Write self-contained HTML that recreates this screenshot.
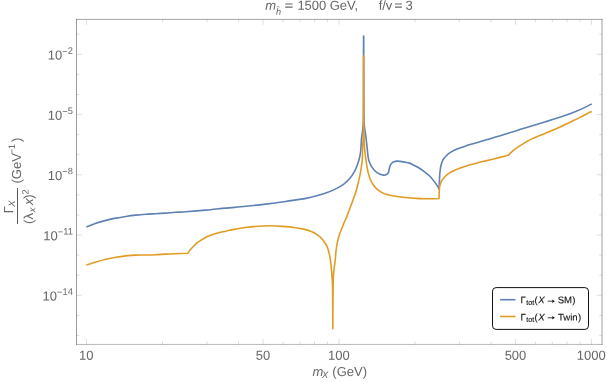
<!DOCTYPE html>
<html><head><meta charset="utf-8"><title>plot</title>
<style>html,body{margin:0;padding:0;background:#fff}body{width:607px;height:382px;overflow:hidden}</style>
</head><body>
<svg width="607" height="382" viewBox="0 0 607 382" style="display:block;font-family:'Liberation Sans',sans-serif">
<rect width="607" height="382" fill="#fff"/>
<g stroke="#666" stroke-width="0.22" fill="none">
<line x1="86.50" y1="344.45" x2="86.50" y2="339.05"/>
<line x1="86.50" y1="19.40" x2="86.50" y2="24.80"/>
<line x1="262.95" y1="344.45" x2="262.95" y2="339.05"/>
<line x1="262.95" y1="19.40" x2="262.95" y2="24.80"/>
<line x1="338.95" y1="344.45" x2="338.95" y2="339.05"/>
<line x1="338.95" y1="19.40" x2="338.95" y2="24.80"/>
<line x1="515.40" y1="344.45" x2="515.40" y2="339.05"/>
<line x1="515.40" y1="19.40" x2="515.40" y2="24.80"/>
<line x1="591.40" y1="344.45" x2="591.40" y2="339.05"/>
<line x1="591.40" y1="19.40" x2="591.40" y2="24.80"/>
<line x1="162.50" y1="344.45" x2="162.50" y2="341.55"/>
<line x1="162.50" y1="19.40" x2="162.50" y2="22.30"/>
<line x1="206.95" y1="344.45" x2="206.95" y2="341.55"/>
<line x1="206.95" y1="19.40" x2="206.95" y2="22.30"/>
<line x1="238.49" y1="344.45" x2="238.49" y2="341.55"/>
<line x1="238.49" y1="19.40" x2="238.49" y2="22.30"/>
<line x1="282.94" y1="344.45" x2="282.94" y2="341.55"/>
<line x1="282.94" y1="19.40" x2="282.94" y2="22.30"/>
<line x1="299.85" y1="344.45" x2="299.85" y2="341.55"/>
<line x1="299.85" y1="19.40" x2="299.85" y2="22.30"/>
<line x1="314.49" y1="344.45" x2="314.49" y2="341.55"/>
<line x1="314.49" y1="19.40" x2="314.49" y2="22.30"/>
<line x1="327.40" y1="344.45" x2="327.40" y2="341.55"/>
<line x1="327.40" y1="19.40" x2="327.40" y2="22.30"/>
<line x1="414.95" y1="344.45" x2="414.95" y2="341.55"/>
<line x1="414.95" y1="19.40" x2="414.95" y2="22.30"/>
<line x1="459.40" y1="344.45" x2="459.40" y2="341.55"/>
<line x1="459.40" y1="19.40" x2="459.40" y2="22.30"/>
<line x1="490.94" y1="344.45" x2="490.94" y2="341.55"/>
<line x1="490.94" y1="19.40" x2="490.94" y2="22.30"/>
<line x1="535.39" y1="344.45" x2="535.39" y2="341.55"/>
<line x1="535.39" y1="19.40" x2="535.39" y2="22.30"/>
<line x1="552.30" y1="344.45" x2="552.30" y2="341.55"/>
<line x1="552.30" y1="19.40" x2="552.30" y2="22.30"/>
<line x1="566.94" y1="344.45" x2="566.94" y2="341.55"/>
<line x1="566.94" y1="19.40" x2="566.94" y2="22.30"/>
<line x1="579.85" y1="344.45" x2="579.85" y2="341.55"/>
<line x1="579.85" y1="19.40" x2="579.85" y2="22.30"/>
<line x1="76.50" y1="335.42" x2="79.40" y2="335.42"/>
<line x1="602.00" y1="335.42" x2="599.10" y2="335.42"/>
<line x1="76.50" y1="315.34" x2="79.40" y2="315.34"/>
<line x1="602.00" y1="315.34" x2="599.10" y2="315.34"/>
<line x1="76.50" y1="295.26" x2="81.90" y2="295.26"/>
<line x1="602.00" y1="295.26" x2="596.60" y2="295.26"/>
<line x1="76.50" y1="275.18" x2="79.40" y2="275.18"/>
<line x1="602.00" y1="275.18" x2="599.10" y2="275.18"/>
<line x1="76.50" y1="255.10" x2="79.40" y2="255.10"/>
<line x1="602.00" y1="255.10" x2="599.10" y2="255.10"/>
<line x1="76.50" y1="235.02" x2="81.90" y2="235.02"/>
<line x1="602.00" y1="235.02" x2="596.60" y2="235.02"/>
<line x1="76.50" y1="214.94" x2="79.40" y2="214.94"/>
<line x1="602.00" y1="214.94" x2="599.10" y2="214.94"/>
<line x1="76.50" y1="194.86" x2="79.40" y2="194.86"/>
<line x1="602.00" y1="194.86" x2="599.10" y2="194.86"/>
<line x1="76.50" y1="174.78" x2="81.90" y2="174.78"/>
<line x1="602.00" y1="174.78" x2="596.60" y2="174.78"/>
<line x1="76.50" y1="154.70" x2="79.40" y2="154.70"/>
<line x1="602.00" y1="154.70" x2="599.10" y2="154.70"/>
<line x1="76.50" y1="134.62" x2="79.40" y2="134.62"/>
<line x1="602.00" y1="134.62" x2="599.10" y2="134.62"/>
<line x1="76.50" y1="114.54" x2="81.90" y2="114.54"/>
<line x1="602.00" y1="114.54" x2="596.60" y2="114.54"/>
<line x1="76.50" y1="94.46" x2="79.40" y2="94.46"/>
<line x1="602.00" y1="94.46" x2="599.10" y2="94.46"/>
<line x1="76.50" y1="74.38" x2="79.40" y2="74.38"/>
<line x1="602.00" y1="74.38" x2="599.10" y2="74.38"/>
<line x1="76.50" y1="54.30" x2="81.90" y2="54.30"/>
<line x1="602.00" y1="54.30" x2="596.60" y2="54.30"/>
<line x1="76.50" y1="34.22" x2="79.40" y2="34.22"/>
<line x1="602.00" y1="34.22" x2="599.10" y2="34.22"/>
</g>
<g stroke="#666" fill="none" stroke-linecap="square">
<line x1="76.5" y1="19.4" x2="76.5" y2="344.45" stroke-width="0.66"/>
<line x1="76.5" y1="19.4" x2="602.0" y2="19.4" stroke-width="0.58"/>
<line x1="602.0" y1="19.4" x2="602.0" y2="344.45" stroke-width="0.62"/>
<line x1="76.5" y1="344.45" x2="602.0" y2="344.45" stroke-width="0.46"/>
</g>
<g fill="none" stroke-width="1.6" stroke-linejoin="round" stroke-linecap="butt">
<path stroke="#5E81B5" d="M86.35 227.00 C87.94 226.38 92.64 224.39 95.90 223.28 C99.16 222.18 102.58 221.23 105.90 220.37 C109.22 219.52 112.48 218.81 115.80 218.16 C119.12 217.50 122.48 216.95 125.80 216.44 C129.12 215.94 132.38 215.50 135.70 215.13 C139.02 214.75 142.38 214.45 145.70 214.21 C149.02 213.97 152.28 213.88 155.60 213.70 C158.92 213.51 162.28 213.33 165.60 213.10 C168.92 212.87 172.10 212.53 175.50 212.30 C178.90 212.07 180.93 212.07 186.00 211.70 C191.07 211.33 199.27 210.70 205.90 210.10 C212.53 209.50 219.17 208.73 225.80 208.10 C232.43 207.47 239.07 206.97 245.70 206.30 C252.33 205.63 258.97 204.90 265.60 204.10 C272.23 203.30 280.43 202.20 285.50 201.50 C290.57 200.80 292.58 200.42 296.00 199.90 C299.42 199.38 302.68 199.07 306.00 198.40 C309.32 197.73 312.58 196.82 315.90 195.90 C319.22 194.98 322.58 194.07 325.90 192.90 C329.22 191.73 332.82 190.37 335.80 188.90 C338.78 187.43 341.48 185.82 343.80 184.10 C346.12 182.38 347.88 180.74 349.70 178.58 C351.52 176.42 353.37 173.59 354.70 171.15 C356.03 168.70 356.87 166.28 357.70 163.92 C358.53 161.56 359.18 159.32 359.70 157.00 C360.22 154.68 360.52 152.83 360.80 150.00 C361.08 147.17 361.13 143.00 361.40 140.00 C361.67 137.00 362.11 134.50 362.40 132.00 C362.69 129.50 362.97 128.67 363.15 125.00 C363.32 121.33 363.38 124.83 363.45 110.00 C363.52 95.17 363.53 48.33 363.55 36.00 L363.70 36.00 C363.73 48.33 363.78 95.17 363.88 110.00 C363.97 124.83 364.06 121.33 364.29 125.00 C364.52 128.67 364.90 129.50 365.24 132.00 C365.58 134.50 365.95 137.00 366.30 140.00 C366.65 143.00 367.07 147.33 367.35 150.00 C367.63 152.67 367.73 154.18 368.01 156.00 C368.28 157.82 368.36 159.08 368.99 160.90 C369.63 162.72 370.71 165.13 371.82 166.90 C372.92 168.67 374.32 170.30 375.62 171.50 C376.92 172.70 378.27 173.50 379.60 174.10 C380.93 174.70 382.45 175.03 383.60 175.10 C384.75 175.17 385.68 174.97 386.50 174.50 C387.32 174.03 388.07 173.13 388.50 172.30 C388.93 171.47 388.87 170.50 389.10 169.50 C389.33 168.50 389.50 167.30 389.90 166.30 C390.30 165.30 390.83 164.27 391.50 163.50 C392.17 162.73 392.90 162.10 393.90 161.70 C394.90 161.30 395.90 161.07 397.50 161.10 C399.10 161.13 401.52 161.53 403.50 161.87 C405.48 162.21 407.98 162.74 409.40 163.14 C410.82 163.55 410.58 163.61 412.00 164.30 C413.42 164.99 415.92 166.14 417.90 167.31 C419.88 168.48 421.90 169.80 423.90 171.30 C425.90 172.80 428.07 174.46 429.90 176.30 C431.73 178.15 433.58 180.64 434.90 182.37 C436.22 184.10 437.12 185.58 437.80 186.70 C438.48 187.82 438.80 188.70 439.00 189.10 L439.00 189.10 C439.07 187.86 439.27 184.22 439.40 181.63 C439.53 179.05 439.57 176.16 439.80 173.60 C440.03 171.04 440.30 168.51 440.80 166.27 C441.30 164.03 441.97 161.84 442.80 160.16 C443.63 158.48 444.47 157.54 445.80 156.19 C447.13 154.85 448.82 153.35 450.80 152.10 C452.78 150.86 455.22 149.75 457.70 148.73 C460.18 147.71 462.70 146.92 465.70 145.96 C468.70 145.01 472.38 143.99 475.70 143.00 C479.02 142.02 482.28 141.03 485.60 140.04 C488.92 139.06 492.28 138.08 495.60 137.08 C498.92 136.08 502.18 135.07 505.50 134.05 C508.82 133.02 512.12 132.00 515.50 130.95 C518.88 129.90 522.42 128.79 525.80 127.75 C529.18 126.71 532.48 125.71 535.80 124.71 C539.12 123.71 542.38 122.75 545.70 121.74 C549.02 120.72 552.38 119.69 555.70 118.61 C559.02 117.53 562.28 116.46 565.60 115.28 C568.92 114.11 572.28 112.92 575.60 111.55 C578.92 110.19 582.80 108.38 585.50 107.10 C588.20 105.83 590.75 104.43 591.80 103.89"/>
<path stroke="#E19C24" d="M86.35 265.00 C87.94 264.50 92.64 262.95 95.90 262.00 C99.16 261.05 102.58 260.08 105.90 259.30 C109.22 258.52 112.48 257.87 115.80 257.30 C119.12 256.73 122.48 256.27 125.80 255.90 C129.12 255.53 132.38 255.25 135.70 255.10 C139.02 254.95 142.38 255.07 145.70 255.00 C149.02 254.93 152.28 254.85 155.60 254.70 C158.92 254.55 162.28 254.27 165.60 254.10 C168.92 253.93 171.80 253.83 175.50 253.70 C179.20 253.57 185.75 253.37 187.80 253.30 L187.80 253.30 C188.25 252.68 189.47 250.86 190.50 249.60 C191.53 248.34 192.92 246.87 194.00 245.75 C195.08 244.63 195.96 243.74 197.00 242.90 C198.04 242.06 198.67 241.68 200.25 240.70 C201.83 239.72 204.41 238.04 206.50 237.00 C208.59 235.96 210.70 235.18 212.80 234.45 C214.90 233.72 216.90 233.14 219.10 232.60 C221.30 232.06 223.75 231.70 226.00 231.20 C228.25 230.70 229.42 230.22 232.60 229.60 C235.78 228.98 240.92 228.07 245.10 227.50 C249.28 226.93 253.51 226.48 257.70 226.20 C261.89 225.92 266.07 225.77 270.25 225.80 C274.43 225.83 278.80 226.12 282.80 226.40 C286.80 226.68 290.97 227.08 294.25 227.50 C297.53 227.92 299.75 228.28 302.50 228.90 C305.25 229.52 308.27 230.21 310.75 231.20 C313.23 232.19 315.39 233.47 317.35 234.85 C319.31 236.23 320.93 237.57 322.53 239.50 C324.14 241.43 325.84 243.88 327.00 246.40 C328.15 248.93 328.85 251.90 329.48 254.65 C330.10 257.40 330.40 260.15 330.76 262.90 C331.11 265.65 331.34 268.40 331.58 271.15 C331.83 273.90 332.04 276.26 332.21 279.40 C332.38 282.54 332.50 281.78 332.60 290.00 C332.70 298.22 332.77 322.25 332.80 328.70 L332.80 328.70 C332.84 322.25 332.95 298.77 333.05 290.00 C333.15 281.23 333.20 279.79 333.39 276.10 C333.59 272.41 333.89 270.60 334.20 267.85 C334.51 265.10 334.95 262.35 335.24 259.60 C335.54 256.85 335.66 254.10 335.98 251.35 C336.31 248.60 336.63 245.85 337.19 243.10 C337.76 240.35 338.36 237.88 339.37 234.85 C340.37 231.82 342.08 227.76 343.23 224.90 C344.39 222.04 345.28 220.23 346.31 217.70 C347.34 215.17 348.36 212.43 349.41 209.70 C350.45 206.97 351.54 204.12 352.57 201.30 C353.61 198.48 354.70 195.72 355.60 192.80 C356.50 189.88 357.30 186.62 358.00 183.80 C358.70 180.98 359.23 178.72 359.80 175.90 C360.37 173.08 360.96 169.88 361.40 166.90 C361.84 163.92 362.24 160.82 362.42 158.00 C362.60 155.18 362.39 153.00 362.50 150.00 C362.61 147.00 362.94 143.33 363.10 140.00 C363.26 136.67 363.37 135.00 363.45 130.00 C363.53 125.00 363.55 122.37 363.58 110.00 C363.61 97.63 363.60 64.83 363.60 55.80 L363.65 55.80 C363.66 64.83 363.67 97.63 363.70 110.00 C363.73 122.37 363.77 125.00 363.85 130.00 C363.93 135.00 364.06 136.67 364.20 140.00 C364.34 143.33 364.45 147.00 364.70 150.00 C364.95 153.00 365.34 155.36 365.70 158.00 C366.06 160.64 366.43 163.41 366.84 165.84 C367.25 168.28 367.62 170.37 368.19 172.61 C368.75 174.84 369.39 177.22 370.23 179.24 C371.08 181.26 372.10 183.02 373.27 184.71 C374.45 186.39 375.81 188.04 377.27 189.36 C378.74 190.68 380.30 191.73 382.06 192.63 C383.82 193.52 385.56 194.10 387.83 194.70 C390.09 195.30 392.70 195.75 395.65 196.23 C398.60 196.70 402.11 197.20 405.50 197.56 C408.89 197.92 412.60 198.21 416.00 198.40 C419.40 198.59 422.58 198.65 425.90 198.70 C429.22 198.75 433.72 198.73 435.90 198.70 C438.08 198.67 438.48 198.53 439.00 198.50 L439.00 198.50 C439.07 197.03 439.27 191.83 439.40 189.70 C439.53 187.57 439.40 187.20 439.80 185.70 C440.20 184.20 440.97 182.18 441.80 180.70 C442.63 179.22 443.63 178.02 444.80 176.80 C445.97 175.58 446.97 174.57 448.80 173.40 C450.63 172.23 452.98 171.00 455.80 169.80 C458.62 168.60 462.38 167.27 465.70 166.20 C469.02 165.13 472.38 164.28 475.70 163.40 C479.02 162.52 482.28 161.72 485.60 160.90 C488.92 160.08 492.28 159.32 495.60 158.50 C498.92 157.68 503.35 156.55 505.50 156.00 C507.65 155.45 508.00 155.33 508.50 155.20 L508.50 155.20 C508.87 154.82 509.78 153.78 510.70 152.90 C511.62 152.03 512.88 150.86 514.00 149.96 C515.12 149.06 516.17 148.35 517.40 147.51 C518.63 146.67 520.00 145.82 521.40 144.92 C522.80 144.03 524.07 143.15 525.80 142.14 C527.53 141.13 529.48 139.95 531.80 138.86 C534.12 137.76 536.72 136.81 539.70 135.58 C542.68 134.35 546.38 132.87 549.70 131.47 C553.02 130.08 556.28 128.72 559.60 127.21 C562.92 125.70 566.28 124.01 569.60 122.42 C572.92 120.82 576.52 119.11 579.50 117.62 C582.48 116.13 585.45 114.50 587.50 113.48 C589.55 112.46 591.08 111.84 591.80 111.51"/>
</g>
<rect x="492.5" y="287.6" width="96" height="41.8" rx="3.6" ry="3.6" fill="#fff" stroke="#111" stroke-width="1"/>
<line x1="500.1" x2="515.5" y1="299.7" y2="299.7" stroke="#5E81B5" stroke-width="1.6"/>
<line x1="500.1" x2="515.5" y1="316.5" y2="316.5" stroke="#E19C24" stroke-width="1.6"/>
<path d="M547.7 301.2 H553.4" stroke="#111" stroke-width="0.8" fill="none"/><path d="M555.0 301.2 L552.0 299.4 L552.6 301.2 L552.0 302.9 Z" fill="#111"/>
<path d="M547.7 317.8 H553.4" stroke="#111" stroke-width="0.8" fill="none"/><path d="M555.0 317.8 L552.0 316.1 L552.6 317.8 L552.0 319.6 Z" fill="#111"/>
<g opacity="0.999">
<text x="79.10" y="359.65" font-size="13px" fill="#666" transform="rotate(0.03 79.10 359.65)">10</text>
<text x="255.80" y="359.65" font-size="13px" fill="#666" transform="rotate(0.03 255.80 359.65)">50</text>
<text x="327.93" y="359.65" font-size="13px" fill="#666" transform="rotate(0.03 327.93 359.65)">100</text>
<text x="504.63" y="359.65" font-size="13px" fill="#666" transform="rotate(0.03 504.63 359.65)">500</text>
<text x="576.75" y="359.65" font-size="13px" fill="#666" transform="rotate(0.03 576.75 359.65)">1000</text>
<text x="265.15" y="9.85" font-size="13px" font-style="italic" fill="#666" transform="rotate(0.03 265.15 9.85)">m</text>
<text x="276.05" y="14.80" font-size="9.2px" font-style="italic" fill="#666" transform="rotate(0.03 276.05 14.80)">h</text>
<text x="297.40" y="9.85" font-size="13px" fill="#666" transform="rotate(0.03 297.40 9.85)">1500</text>
<text x="329.75" y="9.85" font-size="13px" fill="#666" transform="rotate(0.03 329.75 9.85)">GeV,</text>
<text x="378.65" y="9.85" font-size="13px" fill="#666" transform="rotate(0.03 378.65 9.85)">f/v</text>
<text x="405.52" y="9.85" font-size="13px" fill="#666" transform="rotate(0.03 405.52 9.85)">3</text>
<text x="312.55" y="375.95" font-size="13px" font-style="italic" fill="#666" transform="rotate(0.03 312.55 375.95)">m</text>
<text x="322.10" y="377.95" font-size="9.3px" font-style="italic" fill="#666" transform="rotate(0.03 322.10 377.95)">X</text>
<text x="332.35" y="375.95" font-size="13px" fill="#666" transform="rotate(0.03 332.35 375.95)">(GeV)</text>
<text x="520.45" y="303.20" font-size="9.6px" fill="#111" transform="rotate(0.03 520.45 303.20)" stroke="#111" stroke-width="0.12">Γ</text>
<text x="526.15" y="304.90" font-size="7.2px" fill="#111" transform="rotate(0.03 526.15 304.90)" stroke="#111" stroke-width="0.12">tot</text>
<text x="534.50" y="303.20" font-size="9.6px" fill="#111" transform="rotate(0.03 534.50 303.20)" stroke="#111" stroke-width="0.12">(</text>
<text x="538.15" y="303.20" font-size="9.6px" font-style="italic" fill="#111" transform="rotate(0.03 538.15 303.20)" stroke="#111" stroke-width="0.12">X</text>
<text x="557.70" y="303.20" font-size="9.6px" fill="#111" transform="rotate(0.03 557.70 303.20)" stroke="#111" stroke-width="0.12">SM</text>
<text x="572.30" y="303.20" font-size="9.6px" fill="#111" transform="rotate(0.03 572.30 303.20)" stroke="#111" stroke-width="0.12">)</text>
<text x="520.45" y="320.40" font-size="9.6px" fill="#111" transform="rotate(0.03 520.45 320.40)" stroke="#111" stroke-width="0.12">Γ</text>
<text x="526.15" y="322.10" font-size="7.2px" fill="#111" transform="rotate(0.03 526.15 322.10)" stroke="#111" stroke-width="0.12">tot</text>
<text x="534.50" y="320.40" font-size="9.6px" fill="#111" transform="rotate(0.03 534.50 320.40)" stroke="#111" stroke-width="0.12">(</text>
<text x="538.15" y="320.40" font-size="9.6px" font-style="italic" fill="#111" transform="rotate(0.03 538.15 320.40)" stroke="#111" stroke-width="0.12">X</text>
<text x="557.95" y="320.40" font-size="9.6px" fill="#111" transform="rotate(0.03 557.95 320.40)" stroke="#111" stroke-width="0.12">Twin</text>
<text x="578.05" y="320.40" font-size="9.6px" fill="#111" transform="rotate(0.03 578.05 320.40)" stroke="#111" stroke-width="0.12">)</text>
<text x="72.85" y="59.60" text-anchor="end" font-size="13px" fill="#666" transform="rotate(0.03 72.85 59.60)">10<tspan font-size="9.3px" dy="-5.2">−</tspan><tspan font-size="9.3px" dy="-0.7">2</tspan></text>
<text x="72.85" y="119.84" text-anchor="end" font-size="13px" fill="#666" transform="rotate(0.03 72.85 119.84)">10<tspan font-size="9.3px" dy="-5.2">−</tspan><tspan font-size="9.3px" dy="-0.7">5</tspan></text>
<text x="72.85" y="180.08" text-anchor="end" font-size="13px" fill="#666" transform="rotate(0.03 72.85 180.08)">10<tspan font-size="9.3px" dy="-5.2">−</tspan><tspan font-size="9.3px" dy="-0.7">8</tspan></text>
<text x="72.85" y="240.32" text-anchor="end" font-size="13px" fill="#666" transform="rotate(0.03 72.85 240.32)">10<tspan font-size="9.3px" dy="-5.2">−</tspan><tspan font-size="9.3px" dy="-0.7">11</tspan></text>
<text x="72.85" y="300.56" text-anchor="end" font-size="13px" fill="#666" transform="rotate(0.03 72.85 300.56)">10<tspan font-size="9.3px" dy="-5.2">−</tspan><tspan font-size="9.3px" dy="-0.7">14</tspan></text>
<g transform="rotate(-90)">
<text x="-183.50" y="20.90" font-size="13px" fill="#666" transform="rotate(0.03 -183.50 20.90)">(GeV</text>
<text x="-154.20" y="15.10" font-size="9.3px" fill="#666" transform="rotate(0.03 -154.20 15.10)">−</text>
<text x="-149.15" y="15.10" font-size="9.3px" fill="#666" transform="rotate(0.03 -149.15 15.10)">1</text>
<text x="-142.00" y="20.90" font-size="13px" fill="#666" transform="rotate(0.03 -142.00 20.90)">)</text>
<text x="-213.15" y="13.00" font-size="13px" fill="#666" transform="rotate(0.03 -213.15 13.00)">Γ</text>
<text x="-206.70" y="14.90" font-size="9.3px" font-style="italic" fill="#666" transform="rotate(0.03 -206.70 14.90)">X</text>
<text x="-224.05" y="33.10" font-size="13px" fill="#666" transform="rotate(0.03 -224.05 33.10)">(</text>
<text x="-219.50" y="33.10" font-size="13px" fill="#666" transform="rotate(0.03 -219.50 33.10)">λ</text>
<text x="-212.25" y="35.20" font-size="9.3px" font-style="italic" fill="#666" transform="rotate(0.03 -212.25 35.20)">x</text>
<text x="-205.12" y="33.10" font-size="13px" font-style="italic" fill="#666" transform="rotate(0.03 -205.12 33.10)">x</text>
<text x="-198.70" y="33.10" font-size="13px" fill="#666" transform="rotate(0.03 -198.70 33.10)">)</text>
<text x="-194.40" y="28.40" font-size="9.3px" fill="#666" transform="rotate(0.03 -194.40 28.40)">2</text>
</g>
<rect x="17.0" y="188.0" width="1.0" height="35.9" fill="#5a5a5a"/>
<path d="M277.0 7.5 L278.2 5.9 L279.4 7.5" fill="none" stroke="#666" stroke-width="0.6"/>
<path d="M285.2 4.0 H292.6 M285.2 7.1 H292.6" stroke="#666" stroke-width="1.15" fill="none"/>
<path d="M395.0 4.0 H401.9 M395.0 7.1 H401.9" stroke="#666" stroke-width="1.15" fill="none"/>
</g>
</svg>
</body></html>
